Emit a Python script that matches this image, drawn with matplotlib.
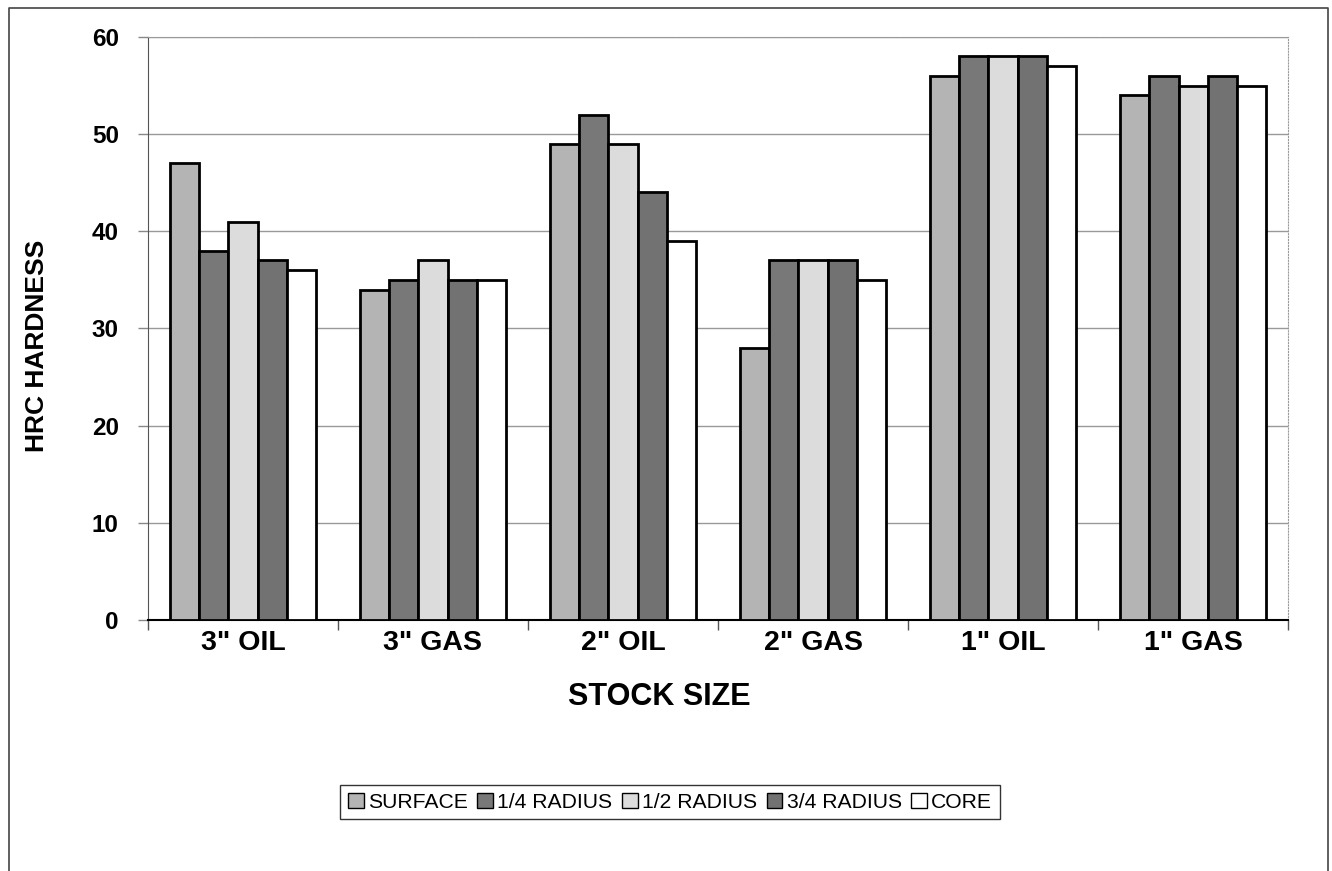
import numpy as np
import matplotlib
matplotlib.use("Agg")
import matplotlib.pyplot as plt
from matplotlib.lines import Line2D

plt.rcParams["font.family"] = ["Liberation Sans", "DejaVu Sans"]

# ---- data -----------------------------------------------------------------
stock = ['3" OIL', '3" GAS', '2" OIL', '2" GAS', '1" OIL', '1" GAS']
positions = ["SURFACE", "1/4 RADIUS", "1/2 RADIUS", "3/4 RADIUS", "CORE"]
surface = [47, 34, 49, 28, 56, 54]
quarter = [38, 35, 52, 37, 58, 56]
half = [41, 37, 49, 37, 58, 55]
three_q = [37, 35, 44, 37, 58, 56]
core = [36, 35, 39, 35, 57, 55]
series = [surface, quarter, half, three_q, core]
fills = ["#b4b4b4", "#787878", "#dcdcdc", "#727272", "#ffffff"]

# ---- figure ---------------------------------------------------------------
fig = plt.figure(figsize=(13.32, 8.71), dpi=100)
ax = fig.add_axes([0.1111, 0.2882, 0.8559, 0.6693])

x = np.arange(len(stock))
w = 0.153
for k, (vals, c) in enumerate(zip(series, fills)):
    ax.bar(x + (k - 2) * w, vals, width=w, color=c, edgecolor="black",
           linewidth=2.0, label=positions[k], zorder=3)

ax.set_xlim(-0.5, len(stock) - 0.5)
ax.set_ylim(0, 60)
ax.set_yticks(range(0, 61, 10))
ax.yaxis.grid(True, color="#999999", lw=1.0, zorder=0)

# category labels centred, tick marks on the boundaries
ax.set_xticks(np.arange(-0.5, len(stock)))
ax.set_xticklabels([])
ax.set_xticks(x, minor=True)
ax.set_xticklabels(stock, minor=True, fontsize=20.5, fontweight="bold")
ax.tick_params(axis="x", which="minor", length=0, pad=7)
ax.tick_params(axis="x", which="major", length=7, width=1, color="#555555")
ax.tick_params(axis="y", length=7, width=1, color="#888888", pad=14,
               labelsize=17.5)
for t in ax.get_yticklabels():
    t.set_fontweight("bold")

for s in ["top", "right"]:
    ax.spines[s].set_color("#9a9a9a")
    ax.spines[s].set_linestyle(":")
ax.spines["left"].set_color("#555555")
ax.spines["bottom"].set_color("black")
ax.spines["bottom"].set_linewidth(1.5)

fig.text(0.495, 0.200, "STOCK SIZE", ha="center", va="center",
         fontsize=22, fontweight="bold")
fig.text(0.028, 0.603, "HRC HARDNESS", ha="center", va="center",
         rotation=90, fontsize=19, fontweight="bold")

leg = fig.legend(loc="center", bbox_to_anchor=(0.503, 0.079), ncol=5,
                 fontsize=15.2, frameon=True, fancybox=False,
                 handlelength=0.75, handleheight=0.75, handletextpad=0.2,
                 columnspacing=0.45, borderpad=0.35)
leg.get_frame().set_edgecolor("black")
leg.get_frame().set_linewidth(1.0)
for h in leg.legend_handles:
    h.set_linewidth(1.0)

# outer chart border
x0, x1, y1 = 9 / 1332, 1328 / 1332, 1 - 8 / 871
fig.add_artist(Line2D([x0, x0, x1, x1], [0, y1, y1, 0],
                      transform=fig.transFigure, color="#444444", lw=1.2))

fig.savefig("out.png", dpi=100)
